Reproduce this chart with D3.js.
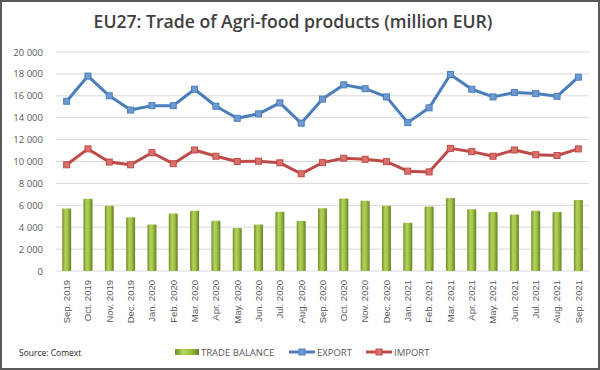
<!DOCTYPE html>
<html>
<head>
<meta charset="utf-8">
<script src="https://cdn.jsdelivr.net/npm/d3@7"></script>
<style>
  body { margin: 0; background: #fff; }
  svg { display: block; font-family: "Open Sans", "Liberation Sans", sans-serif; }
</style>
</head>
<body>
<div id="chart"></div>
<script>
// Data (million EUR)
const months = ["Sep. 2019", "Oct. 2019", "Nov. 2019", "Dec. 2019", "Jan. 2020", "Feb. 2020",
  "Mar. 2020", "Apr. 2020", "May. 2020", "Jun. 2020", "Jul. 2020", "Aug. 2020", "Sep. 2020",
  "Oct. 2020", "Nov. 2020", "Dec. 2020", "Jan. 2021", "Feb. 2021", "Mar. 2021", "Apr. 2021",
  "May. 2021", "Jun. 2021", "Jul. 2021", "Aug. 2021", "Sep. 2021"];

const exportVals = [15500, 17800, 16000, 14700, 15100, 15100, 16600, 15050, 13950, 14350, 15350,
  13500, 15700, 17000, 16650, 15900, 13550, 14900, 17950, 16600, 15900, 16300, 16200, 15950, 17700];

const importVals = [9700, 11150, 9950, 9700, 10800, 9800, 11050, 10480, 10000, 10030, 9880,
  8880, 9900, 10300, 10200, 9990, 9120, 9050, 11200, 10900, 10480, 11050, 10620, 10550, 11150];

const balanceVals = [5700, 6600, 5950, 4900, 4250, 5250, 5500, 4580, 3920, 4250, 5400,
  4560, 5720, 6630, 6420, 5950, 4400, 5900, 6660, 5650, 5380, 5150, 5500, 5380, 6480];

const yTicks = [0, 2000, 4000, 6000, 8000, 10000, 12000, 14000, 16000, 18000, 20000];

const width = 600, height = 370;
const margin = {top: 52, right: 11, bottom: 99, left: 56};
const innerW = width - margin.left - margin.right;
const innerH = height - margin.top - margin.bottom;

const svg = d3.select("#chart").append("svg")
  .attr("width", width)
  .attr("height", height);

// frame
svg.append("rect")
  .attr("x", 1).attr("y", 1)
  .attr("width", width - 2).attr("height", height - 2)
  .attr("fill", "#fff")
  .attr("stroke", "#5a5a5a")
  .attr("stroke-width", 2);

// gradients
const defs = svg.append("defs");
const barGrad = defs.append("linearGradient").attr("id", "barGrad")
  .attr("x1", "0%").attr("x2", "100%").attr("y1", "0%").attr("y2", "0%");
barGrad.append("stop").attr("offset", "0%").attr("stop-color", "#6f8e2a");
barGrad.append("stop").attr("offset", "35%").attr("stop-color", "#b3d35c");
barGrad.append("stop").attr("offset", "65%").attr("stop-color", "#9dc042");
barGrad.append("stop").attr("offset", "100%").attr("stop-color", "#5f7d22");

const g = svg.append("g")
  .attr("transform", `translate(${margin.left},${margin.top})`);

// Scales
const x = d3.scaleBand()
  .domain(months)
  .range([0, innerW])
  .paddingInner(0.58)
  .paddingOuter(0.29);

const y = d3.scaleLinear()
  .domain([0, 20000])
  .range([innerH, 0]);

const fmt = v => d3.format(",")(v).replace(/,/g, " ");

// Gridlines
g.append("g")
  .selectAll("line")
  .data(yTicks)
  .join("line")
  .attr("x1", 0).attr("x2", innerW)
  .attr("y1", d => y(d)).attr("y2", d => y(d))
  .attr("stroke", "#d9d9d9")
  .attr("stroke-width", 1);

// Y axis labels
const yAxis = g.append("g")
  .call(d3.axisLeft(y).tickValues(yTicks).tickFormat(fmt).tickSize(0).tickPadding(13));
yAxis.select(".domain").remove();
yAxis.selectAll("text")
  .attr("fill", "#595959")
  .style("font-size", "9.5px")
  .style("font-family", "'Open Sans', sans-serif");

// X axis labels
const xAxis = g.append("g")
  .attr("transform", `translate(0,${innerH})`)
  .call(d3.axisBottom(x).tickSize(0).tickPadding(8));
xAxis.select(".domain").remove();
xAxis.selectAll("text")
  .attr("fill", "#595959")
  .style("font-size", "9.5px")
  .attr("transform", "rotate(-90)")
  .attr("text-anchor", "end")
  .attr("dy", "0.35em")
  .attr("x", -9)
  .attr("y", 0);

// Bars: trade balance
g.append("g")
  .selectAll("rect")
  .data(balanceVals)
  .join("rect")
  .attr("x", (d, i) => x(months[i]))
  .attr("y", d => y(d))
  .attr("width", x.bandwidth())
  .attr("height", d => innerH - y(d))
  .attr("rx", 1)
  .attr("fill", "url(#barGrad)");

const cx = i => x(months[i]) + x.bandwidth() / 2;

function drawLine(vals, color, light) {
  const line = d3.line()
    .x((d, i) => cx(i))
    .y(d => y(d));
  g.append("path")
    .datum(vals)
    .attr("fill", "none")
    .attr("stroke", color)
    .attr("stroke-width", 3)
    .attr("stroke-linejoin", "round")
    .attr("d", line);
  g.append("g")
    .selectAll("rect")
    .data(vals)
    .join("rect")
    .attr("x", (d, i) => cx(i) - 3)
    .attr("y", d => y(d) - 3)
    .attr("width", 6)
    .attr("height", 6)
    .attr("fill", light)
    .attr("stroke", color)
    .attr("stroke-width", 1);
}

drawLine(importVals, "#be4b48", "#d9706c");
drawLine(exportVals, "#4a7ebb", "#6e9ad0");

// Title
svg.append("text")
  .attr("x", 293)
  .attr("y", 28)
  .attr("text-anchor", "middle")
  .attr("fill", "#404040")
  .style("font-size", "17.6px")
  .style("font-weight", "600")
  .text("EU27: Trade of Agri-food products (million EUR)");

// Source
svg.append("text")
  .attr("x", 19)
  .attr("y", 356)
  .attr("fill", "#262626")
  .style("font-size", "8.5px")
  .text("Source: Comext");

// Legend
const leg = svg.append("g").style("font-size", "9.5px");
leg.append("rect")
  .attr("x", 175).attr("y", 349).attr("width", 24).attr("height", 6)
  .attr("fill", "url(#barGrad)");
leg.append("text").attr("x", 201).attr("y", 355.5).attr("fill", "#595959").text("TRADE BALANCE");

[{x: 289, color: "#4a7ebb", light: "#6e9ad0", label: "EXPORT"},
 {x: 366, color: "#be4b48", light: "#d9706c", label: "IMPORT"}].forEach(s => {
  leg.append("line")
    .attr("x1", s.x).attr("x2", s.x + 26)
    .attr("y1", 352).attr("y2", 352)
    .attr("stroke", s.color).attr("stroke-width", 3);
  leg.append("rect")
    .attr("x", s.x + 10).attr("y", 349).attr("width", 6).attr("height", 6)
    .attr("fill", s.light).attr("stroke", s.color);
  leg.append("text").attr("x", s.x + 28).attr("y", 355.5).attr("fill", "#595959").text(s.label);
});
</script>
</body>
</html>
